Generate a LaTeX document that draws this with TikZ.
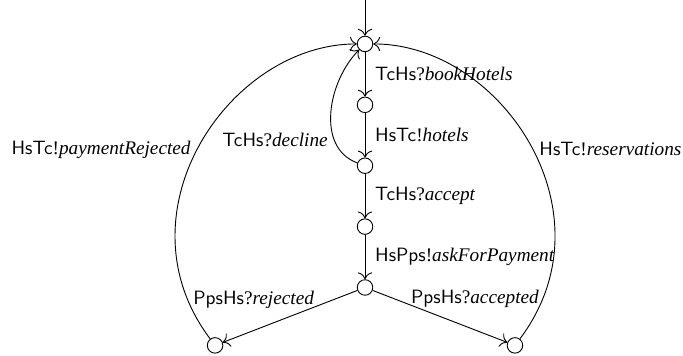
\documentclass[tikz,border=0pt]{standalone}
\usepackage{fontspec}
\setmainfont{Liberation Serif}
\usepackage{tikz}
\usetikzlibrary{calc}
\usetikzlibrary{positioning}
\usetikzlibrary{arrows.meta}

\newcommand{\act}[3]{\textsf{#1}#2\textit{#3}}

\begin{document}
\begin{tikzpicture}[line width=0.5pt]
  \tikzset{trans/.style={->, >={To[scale=1.4]}}};
  \tikzset{state/.style={circle, draw=black, minimum size=0.3cm, inner sep=0pt}};
  \tikzset{lbl/.style={font=\fontsize{10.6}{12}\selectfont}};
  \useasboundingbox (-7.06,0.85) rectangle (6.15,-6.03);

  \node[state] (s0) at (0,0) {};
  \node[state, below=0.86cm of s0] (s1) {};
  \node[state, below=0.86cm of s1] (s2) {};
  \node[state, below=0.86cm of s2] (s3) {};
  \node[state, below=0.86cm of s3] (s4) {};
  \node[state] (rej) at ($(s4)+(-2.9cm,-1.12cm)$) {};
  \node[state] (acc) at ($(s4)+(2.9cm,-1.12cm)$) {};
  \coordinate [above=0.85cm] (init) at (s0);

  \draw [trans] (init) -- (s0);
  \draw [trans] (s0) -- (s1) node [lbl, midway, right=2pt] {\act{TcHs}{?}{bookHotels}};
  \draw [trans] (s1) -- (s2) node [lbl, midway, right=2pt] {\act{HsTc}{!}{hotels}};
  \draw [trans] (s2) -- (s3) node [lbl, midway, right=2pt] {\act{TcHs}{?}{accept}};
  \draw [trans] (s3) -- (s4) node [lbl, midway, right=2pt] {\act{HsPps}{!}{askForPayment}};
  \draw [trans] (s2) to [out=160, in=225] node [lbl, pos=0.28, left] {\act{TcHs}{?}{decline}} (s0);

  \draw [trans] (s4) -- (rej) node [lbl, pos=0.77, above=0.3cm] {\act{PpsHs}{?}{rejected}};
  \draw [trans] (s4) -- (acc) node [lbl, pos=0.76, above=0.3cm] {\act{PpsHs}{?}{accepted}};

  \draw [trans] (rej) to [out=127, in=180, out distance=3.05cm, in distance=2.47cm]
    node [lbl, pos=0.485, left] {\act{HsTc}{!}{paymentRejected}} (s0);
  \draw [trans] (acc) to [out=53, in=0, out distance=3.05cm, in distance=2.47cm]
    node [lbl, pos=0.485, right] {\act{HsTc}{!}{reservations}} (s0);
\end{tikzpicture}
\end{document}
